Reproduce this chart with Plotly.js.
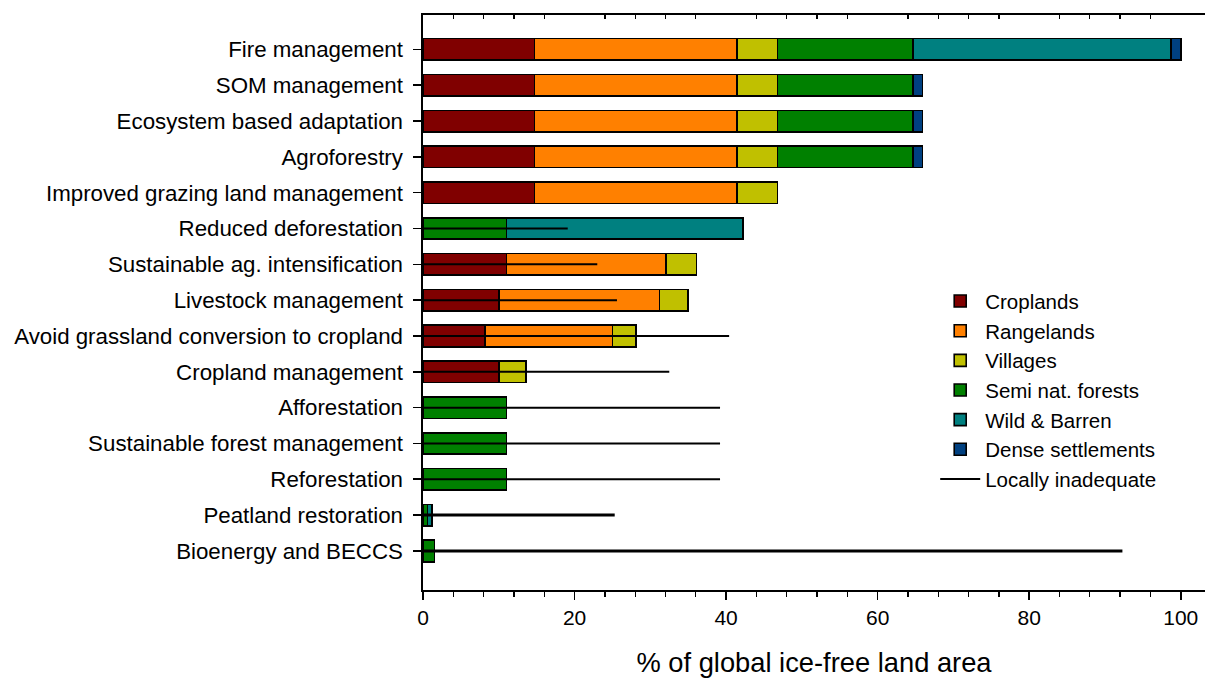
<!DOCTYPE html>
<html>
<head>
<meta charset="utf-8">
<script src="https://cdn.plot.ly/plotly-3.0.1.min.js"></script>
<style>html,body{margin:0;padding:0;background:#fff;}#chart{width:1206px;height:679px;}</style>
</head>
<body>
<div id="chart"></div>
<script>
// ---- Data ----
const categories = [
  "Fire management",
  "SOM management",
  "Ecosystem based adaptation",
  "Agroforestry",
  "Improved grazing land management",
  "Reduced deforestation",
  "Sustainable ag. intensification",
  "Livestock management",
  "Avoid grassland conversion to cropland",
  "Cropland management",
  "Afforestation",
  "Sustainable forest management",
  "Reforestation",
  "Peatland restoration",
  "Bioenergy and BECCS"
];
const croplands      = [14.7, 14.7, 14.7, 14.7, 14.7, 0,    11.0, 10.0, 8.2,  10.0, 0,    0,    0,    0,   0];
const rangelands     = [26.7, 26.7, 26.7, 26.7, 26.7, 0,    21.1, 21.2, 16.8, 0,    0,    0,    0,    0,   0];
const villages       = [5.4,  5.4,  5.4,  5.4,  5.4,  0,    4.0,  3.8,  3.1,  3.6,  0,    0,    0,    0,   0];
const semiNatForests = [17.9, 17.9, 17.9, 17.9, 0,    11.0, 0,    0,    0,    0,    11.0, 11.0, 11.0, 0.6, 1.5];
const wildBarren     = [34.0, 0,    0,    0,    0,    31.2, 0,    0,    0,    0,    0,    0,    0,    0.6, 0];
const denseSettle    = [1.3,  1.2,  1.2,  1.2,  0,    0,    0,    0,    0,    0,    0,    0,    0,    0,   0];
const locallyInadequate = [null, null, null, null, null, 19.1, 23.0, 25.6, 40.4, 32.5, 39.2, 39.2, 39.2, 25.3, 92.3];

const seriesNames  = ["Croplands", "Rangelands", "Villages", "Semi nat. forests", "Wild & Barren", "Dense settlements"];
const seriesValues = [croplands, rangelands, villages, semiNatForests, wildBarren, denseSettle];
const seriesColors = ["#800000", "#FF8000", "#C0C000", "#008000", "#008080", "#004080"];

const FONT = "Liberation Sans, Arial, sans-serif";

const traces = seriesNames.map((name, i) => ({
  type: "bar",
  orientation: "h",
  name: name,
  y: categories,
  x: seriesValues[i],
  width: 0.6,
  marker: { color: seriesColors[i], line: { color: "#000", width: 1.6 } },
  hoverinfo: "name+x"
}));

// line segments from 0 to the locally-inadequate value
const thickSet = new Set(["Peatland restoration", "Bioenergy and BECCS"]);
function buildLine(thick) {
  const xs = [], ys = [];
  categories.forEach((c, i) => {
    const v = locallyInadequate[i];
    if (v === null || thickSet.has(c) !== thick) return;
    xs.push(0, v, null);
    ys.push(c, c, null);
  });
  return { xs, ys };
}
const thin = buildLine(false), thick = buildLine(true);
traces.push({
  type: "scatter", mode: "lines", name: "Locally inadequate",
  x: thin.xs, y: thin.ys, line: { color: "#000", width: 2 },
  legendgroup: "li", connectgaps: false, hoverinfo: "skip"
});
traces.push({
  type: "scatter", mode: "lines", name: "Locally inadequate",
  x: thick.xs, y: thick.ys, line: { color: "#000", width: 3 },
  legendgroup: "li", showlegend: false, connectgaps: false, hoverinfo: "skip"
});
// invisible trace to carry the top axis
traces.push({ type: "scatter", mode: "none", x: [0], y: [categories[0]], xaxis: "x2", showlegend: false, hoverinfo: "skip" });

const layout = {
  width: 1206, height: 679,
  paper_bgcolor: "#fff", plot_bgcolor: "#fff",
  margin: { l: 423, r: 1, t: 15, b: 89 },
  barmode: "stack",
  font: { family: FONT, size: 22, color: "#000" },
  showlegend: true,
  legend: {
    x: 0.655, xanchor: "left", y: 0.537, yanchor: "top",
    font: { family: FONT, size: 20.5, color: "#000" },
    bgcolor: "rgba(0,0,0,0)", borderwidth: 0,
    tracegroupgap: 0, itemwidth: 40, traceorder: "normal"
  },
  xaxis: {
    range: [0, 103.2], showgrid: false, zeroline: false,
    showline: true, linecolor: "#000", linewidth: 1.6,
    tickmode: "linear", tick0: 0, dtick: 20,
    ticks: "outside", ticklen: 8, tickwidth: 1.6, tickcolor: "#000",
    minor: { tickmode: "linear", tick0: 0, dtick: 4, ticks: "outside", ticklen: 5, tickwidth: 1.3, tickcolor: "#000", showgrid: false },
    tickfont: { family: FONT, size: 21, color: "#000" },
    title: { text: "% of global ice-free land area", font: { family: FONT, size: 27.3, color: "#000" }, standoff: 25 }
  },
  xaxis2: {
    overlaying: "x", side: "top", anchor: "y", matches: "x",
    showgrid: false, zeroline: false, showticklabels: false,
    showline: true, linecolor: "#000", linewidth: 1.6,
    tickmode: "linear", tick0: 0, dtick: 20, ticks: "",
    minor: { tickmode: "linear", tick0: 0, dtick: 4, ticks: "inside", ticklen: 4, tickwidth: 1.3, tickcolor: "#000", showgrid: false }
  },
  yaxis: {
    type: "category", range: [15.09, -0.96],
    showgrid: false, zeroline: false,
    showline: true, linecolor: "#000", linewidth: 1.6,
    ticks: "outside", ticklen: 8, tickwidth: 1.6, tickcolor: "#000",
    tickfont: { family: FONT, size: 22.3, color: "#000" },
    ticklabelstandoff: 6
  }
};

Plotly.newPlot("chart", traces, layout, { displayModeBar: false, staticPlot: true });
</script>
</body>
</html>
